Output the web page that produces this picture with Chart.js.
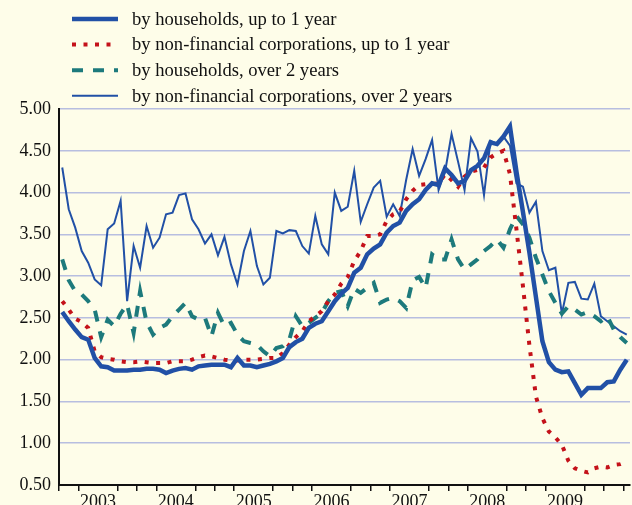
<!DOCTYPE html>
<html>
<head>
<meta charset="utf-8">
<script src="https://cdn.jsdelivr.net/npm/chart.js@4.4.1/dist/chart.umd.min.js"></script>
<style>
  html, body { margin: 0; padding: 0; background: #fefde9; }
  #wrap { width: 632px; height: 505px; position: relative; }
</style>
</head>
<body>
<div id="wrap"><canvas id="chart" width="632" height="505"></canvas></div>
<script>
// monthly series, Jan 2003 .. Apr 2010 (88 months)
const years = ["2003", "2004", "2005", "2006", "2007", "2008", "2009"];

const hhShort = [
  2.57, 2.46, 2.36, 2.27, 2.24, 2.02, 1.92, 1.91, 1.87, 1.87, 1.87, 1.88,
  1.88, 1.89, 1.89, 1.88, 1.84, 1.87, 1.89, 1.90, 1.88, 1.92, 1.93, 1.94,
  1.94, 1.94, 1.91, 2.02, 1.93, 1.93, 1.91, 1.93, 1.95, 1.98, 2.02, 2.15,
  2.21, 2.25, 2.38, 2.43, 2.46, 2.58, 2.70, 2.79, 2.86, 3.04, 3.10, 3.26,
  3.33, 3.38, 3.52, 3.60, 3.64, 3.78, 3.86, 3.92, 4.03, 4.11, 4.09, 4.29,
  4.21, 4.11, 4.14, 4.27, 4.32, 4.41, 4.60, 4.58, 4.67, 4.79, 4.25, 3.77,
  3.28, 2.75, 2.22, 1.97, 1.88, 1.85, 1.86, 1.72, 1.58, 1.66, 1.66, 1.66,
  1.73, 1.74, 1.88, 2.00
];

const nfcShort = [
  2.70, 2.60, 2.49, 2.45, 2.38, 2.10, 2.03, 2.01, 2.00, 1.98, 1.97, 1.97,
  1.98, 1.97, 1.96, 1.96, 1.96, 1.98, 1.98, 1.98, 2.00, 2.03, 2.05, 2.04,
  2.02, 2.00, 1.99, 1.99, 2.00, 2.00, 2.00, 2.01, 2.02, 2.02, 2.08, 2.18,
  2.27, 2.34, 2.46, 2.52, 2.58, 2.70, 2.78, 2.91, 2.99, 3.18, 3.30, 3.48,
  3.48, 3.50, 3.66, 3.74, 3.77, 3.92, 4.02, 4.09, 4.10, 4.10, 4.11, 4.22,
  4.15, 4.07, 4.19, 4.25, 4.27, 4.30, 4.42, 4.47, 4.50, 4.22, 3.56, 2.88,
  2.17, 1.56, 1.30, 1.14, 1.07, 0.98, 0.79, 0.70, 0.67, 0.65, 0.70, 0.72,
  0.71, 0.74, 0.75, 0.78
];

const hhLong = [
  3.20, 2.95, 2.82, 2.78, 2.70, 2.60, 2.27, 2.48, 2.40, 2.55, 2.66, 2.32,
  2.82, 2.45, 2.30, 2.38, 2.42, 2.52, 2.60, 2.68, 2.52, 2.48, 2.50, 2.28,
  2.56, 2.40, 2.44, 2.30, 2.22, 2.20, 2.18, 2.10, 2.04, 2.14, 2.16, 2.24,
  2.52, 2.40, 2.44, 2.50, 2.56, 2.70, 2.80, 2.82, 2.64, 2.85, 2.80, 2.86,
  2.92, 2.68, 2.72, 2.74, 2.70, 2.62, 2.95, 2.99, 2.86, 3.26, 3.20, 3.20,
  3.44, 3.20, 3.08, 3.14, 3.20, 3.30, 3.36, 3.44, 3.34, 3.56, 3.72, 3.62,
  3.46, 3.22, 3.02, 2.82, 2.68, 2.55, 2.64, 2.60, 2.54, 2.57, 2.52, 2.46,
  2.52, 2.36, 2.27, 2.20
];

const nfcLong = [
  4.30, 3.80, 3.58, 3.30, 3.16, 2.96, 2.89, 3.56, 3.63, 3.90, 2.70, 3.36,
  3.10, 3.60, 3.34, 3.46, 3.74, 3.76, 3.97, 3.99, 3.68, 3.56, 3.39, 3.50,
  3.25, 3.47, 3.14, 2.90, 3.30, 3.54, 3.12, 2.90, 2.98, 3.54, 3.51, 3.55,
  3.54, 3.36, 3.27, 3.72, 3.38, 3.26, 4.00, 3.78, 3.83, 4.26, 3.65, 3.86,
  4.06, 4.14, 3.71, 3.86, 3.72, 4.15, 4.52, 4.20, 4.40, 4.63, 4.03, 4.25,
  4.70, 4.37, 4.03, 4.65, 4.49, 3.97, 4.62, 4.58, 4.67, 4.56, 4.11, 4.07,
  3.76, 3.89, 3.30, 3.07, 3.10, 2.55, 2.92, 2.93, 2.73, 2.72, 2.91, 2.52,
  2.46, 2.40, 2.34, 2.30
];

const labels = [
  "by households, up to 1 year",
  "by non-financial corporations, up to 1 year",
  "by households, over 2 years",
  "by non-financial corporations, over 2 years",
];

const SERIF = '"Liberation Serif", "DejaVu Serif", serif';
const BLUE = "#2150a6";
const RED = "#c4121a";
const TEAL = "#1d7a7c";

// each value sits in the middle of its month
function toPoints(arr) {
  return arr.map((v, i) => ({ x: i + 0.5, y: v }));
}

// quarter ticks along the time axis
const quarterTicks = [];
for (let m = 0; m < 88; m += 3) quarterTicks.push(m);

// legend drawn as a column above the plot
const columnLegend = {
  id: "columnLegend",
  afterDraw(chart) {
    const ctx = chart.ctx;
    chart.data.datasets.forEach((ds, i) => {
      const y = 19 + i * 25.6;
      ctx.save();
      ctx.strokeStyle = ds.borderColor;
      ctx.lineWidth = ds.borderWidth;
      ctx.lineCap = "butt";
      ctx.setLineDash(ds.borderDash || []);
      ctx.beginPath();
      ctx.moveTo(72, y);
      ctx.lineTo(118, y);
      ctx.stroke();
      ctx.setLineDash([]);
      ctx.fillStyle = "#111";
      ctx.font = "18.6px " + SERIF;
      ctx.textBaseline = "middle";
      ctx.fillText(ds.label, 132, y + 1);
      ctx.restore();
    });
  },
};

new Chart(document.getElementById("chart"), {
  type: "line",
  data: {
    datasets: [
      {
        label: labels[0],
        data: toPoints(hhShort),
        borderColor: BLUE,
        borderWidth: 4.5,
      },
      {
        label: labels[1],
        data: toPoints(nfcShort),
        borderColor: RED,
        borderWidth: 4,
        borderDash: [4, 7.5],
      },
      {
        label: labels[2],
        data: toPoints(hhLong),
        borderColor: TEAL,
        borderWidth: 4,
        borderDash: [11, 10],
      },
      {
        label: labels[3],
        data: toPoints(nfcLong),
        borderColor: BLUE,
        borderWidth: 2,
      },
    ],
  },
  options: {
    responsive: false,
    animation: false,
    parsing: false,
    layout: { padding: { top: 109, right: 2, left: 0, bottom: 0 } },
    elements: {
      point: { radius: 0 },
      line: { tension: 0, borderCapStyle: "butt", borderJoinStyle: "miter" },
    },
    plugins: {
      legend: { display: false },
      tooltip: { enabled: false },
    },
    scales: {
      x: {
        type: "linear",
        min: 0,
        max: 88,
        afterBuildTicks: (axis) => {
          axis.ticks = quarterTicks.map((v) => ({ value: v }));
        },
        afterFit: (s) => {
          s.height = 20;
        },
        ticks: {
          autoSkip: false,
          maxRotation: 0,
          padding: 0,
          color: "#111",
          font: { family: SERIF, size: 18 },
          callback: (v) => (v % 12 === 6 ? years[(v - 6) / 12] : ""),
        },
        grid: {
          drawOnChartArea: false,
          tickLength: 6,
          lineWidth: 1.5,
          color: (c) =>
            c.tick && c.tick.value % 12 === 6 ? "rgba(0,0,0,0)" : "#111",
        },
        border: { color: "#111", width: 2 },
      },
      y: {
        min: 0.5,
        max: 5,
        afterFit: (s) => {
          s.width = 59;
        },
        ticks: {
          stepSize: 0.5,
          padding: 8,
          color: "#111",
          font: { family: SERIF, size: 18 },
          callback: (v) => v.toFixed(2),
        },
        grid: { color: "#b7bee0", lineWidth: 1.5, drawTicks: false },
        border: { color: "#111", width: 2 },
      },
    },
  },
  plugins: [columnLegend],
});
</script>
</body>
</html>
